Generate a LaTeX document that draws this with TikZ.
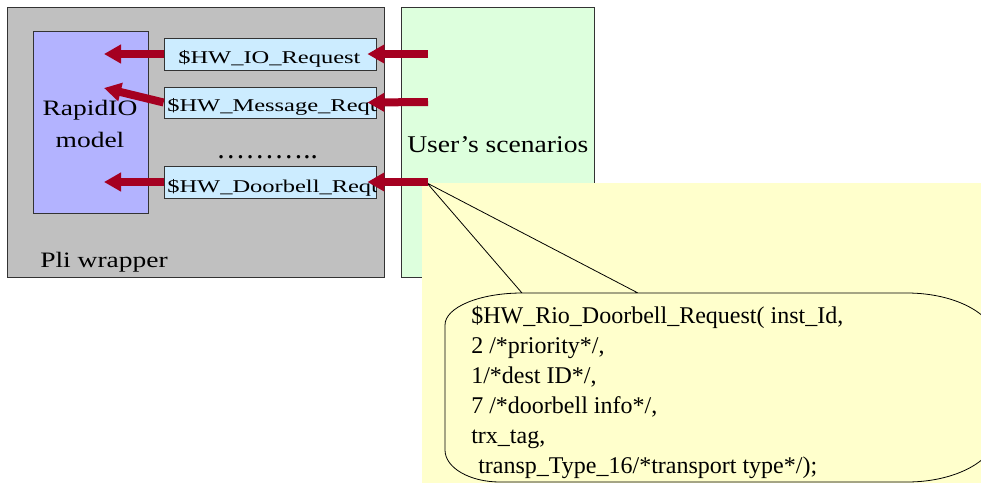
\documentclass[tikz,border=0pt]{standalone}
\usepackage{fontspec}
\setmainfont{Liberation Serif}
\newfontfamily\boxfont[FakeStretch=1.36]{Liberation Serif}
\newfontfamily\wrapfont[FakeStretch=1.25]{Liberation Serif}
\newfontfamily\userfont[FakeStretch=1.15]{Liberation Serif}
\usetikzlibrary{arrows.meta}
\definecolor{grayfill}{HTML}{C0C0C0}
\definecolor{purplefill}{HTML}{B3B3FF}
\definecolor{bluefill}{HTML}{CCECFF}
\definecolor{greenfill}{HTML}{DDFFDD}
\definecolor{yellowfill}{HTML}{FFFFCC}
\definecolor{arrowred}{HTML}{A50021}
\definecolor{edgegray}{HTML}{333333}
\tikzset{
  panel/.style={draw=edgegray, line width=0.6pt, rectangle, inner sep=0pt},
  reqbox/.style={panel, fill=bluefill, minimum width=159pt, minimum height=24pt},
  reqtext/.style={inner sep=0pt, font=\boxfont\fontsize{13.5pt}{16pt}\selectfont},
  bigarrow/.style={draw=arrowred, line width=6pt, -{Triangle[length=12.75pt,width=13.5pt]}},
  calloutline/.style={draw=black, line width=0.6pt, fill=yellowfill},
}
\begin{document}
\begin{tikzpicture}[x=0.75pt,y=-0.75pt]
\useasboundingbox (0,0) rectangle (981,483);
% panels
\node[panel, fill=grayfill, minimum width=282.75pt, minimum height=202.5pt] (wrapper) at (195.5,142) {};
\node[panel, fill=greenfill, minimum width=144.75pt, minimum height=202.5pt] (user) at (497.5,142) {};
\node[panel, fill=purplefill, minimum width=86.25pt, minimum height=136.5pt] (rio) at (90.5,122) {};
% request boxes
\node[reqbox] (io) at (270,54) {};
\node[reqbox, minimum height=23.25pt] (msg) at (270,102.5) {};
\node[reqbox] (door) at (270,182) {};
\node[reqtext, anchor=base west] (iotxt) at (178,63) {\$HW\_IO\_Request};
\begin{scope}
  \clip (msg.south west) rectangle (msg.north east);
  \node[reqtext, anchor=base west] (msgtxt) at (167,111) {\$HW\_Message\_Request};
\end{scope}
\begin{scope}
  \clip (door.south west) rectangle (door.north east);
  \node[reqtext, anchor=base west] (doortxt) at (167,192) {\$HW\_Doorbell\_Request};
\end{scope}
\node[inner sep=0pt, anchor=base west, font=\fontsize{21.75pt}{24pt}\selectfont] (dots) at (216,158) {………..};
% labels
\node[inner sep=0pt, anchor=base, align=center, font=\wrapfont\fontsize{16.5pt}{24pt}\selectfont] (riotxt) at (90,147) {RapidIO\\model};
\node[inner sep=0pt, anchor=base west, font=\wrapfont\fontsize{16.5pt}{20pt}\selectfont] (plitxt) at (40,267) {Pli wrapper};
\node[inner sep=0pt, anchor=base west, font=\userfont\fontsize{18pt}{22pt}\selectfont] (usertxt) at (407,152) {User’s scenarios};
% yellow backdrop
\fill[yellowfill] (422,183) rectangle (981,483);
% callout
\coordinate (tip) at (427,183);
\begin{scope}
  \clip (0,0) rectangle (981,483);
  \draw[calloutline] (tip) -- (522,293) -- (907,293)
    .. controls (956.7,293) and (997,315.4) .. (997,343)
    -- (997,432)
    .. controls (997,459.6) and (956.7,482) .. (907,482)
    -- (500,482)
    .. controls (469.6,482) and (445,467.7) .. (445,450)
    -- (445,325)
    .. controls (445,307.3) and (479.5,293) .. (522,293) -- (638,293) -- (tip);
\end{scope}
\node[inner sep=0pt, anchor=base west, align=left, font=\fontsize{18pt}{22.5pt}\selectfont] (calltxt) at (471,473)
  {\$HW\_Rio\_Doorbell\_Request( inst\_Id,\\
   2 /*priority*/,\\
   1/*dest ID*/,\\
   7 /*doorbell info*/,\\
   trx\_tag,\\
   \hspace*{5.25pt}transp\_Type\_16/*transport type*/);};
% arrows
\coordinate (r1) at (104,54);
\coordinate (r2) at (104,88);
\coordinate (r3) at (104,182);
\coordinate (u1) at (428,54);
\coordinate (u2) at (428,102);
\coordinate (u3) at (428,182);
\draw[bigarrow] (io.west) -- (r1);
\draw[bigarrow] (msg.west) -- (r2);
\draw[bigarrow] (door.west) -- (r3);
\draw[bigarrow] (u1) -- ([xshift=-6.75pt]io.east);
\draw[bigarrow] (u2) -- ([xshift=-6.75pt]msg.east);
\draw[bigarrow] (u3) -- ([xshift=-6.75pt]door.east);
\end{tikzpicture}
\end{document}
